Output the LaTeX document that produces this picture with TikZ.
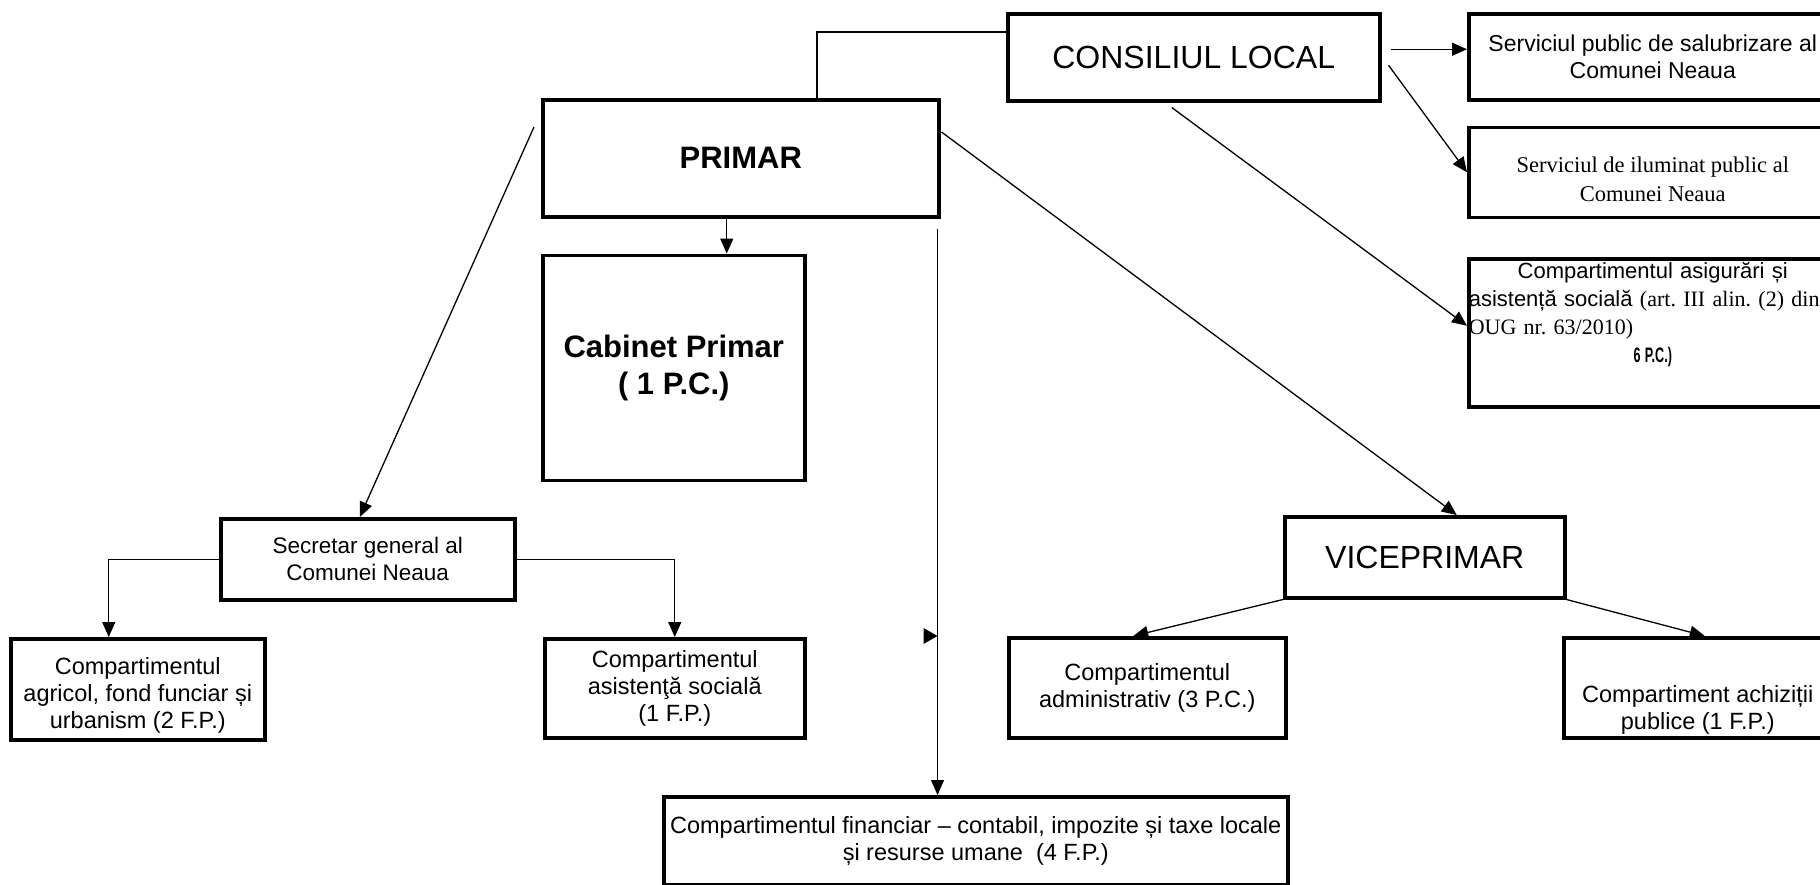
\documentclass[tikz,border=0pt]{standalone}
\usepackage{fontspec}
\setmainfont{Liberation Sans}
\newfontfamily\timesfont{Liberation Serif}
\usepackage{graphicx}
\usepackage{tikz}
\usetikzlibrary{positioning,arrows.meta,calc}

\begin{document}
\frenchspacing
\begin{tikzpicture}[x=1pt, y=-1pt, line width=1.3pt,
>={Triangle[length=15pt,width=13pt]},
box/.style={draw, line width=3.5pt, align=center, inner sep=0pt, anchor=north west, font=\fontsize{23.5}{27}\selectfont},
bigtext/.style={font=\fontsize{32}{38}\selectfont},
boldtext/.style={font=\bfseries\fontsize{31}{37}\selectfont}
]
\path[use as bounding box] (0,0) rectangle (1820,884);
\clip (0,0) rectangle (1820,884);
\fill[white] (0,0) rectangle (1820,884);

% top row
\node (consiliul) [box, bigtext, minimum width=372pt, minimum height=87pt] at (1006,12) {CONSILIUL LOCAL};
\node (salub) [box, minimum width=368pt, minimum height=86pt, font=\fontsize{23}{27}\selectfont] at (1467,12) {Serviciul public de salubrizare al\\ Comunei Neaua};
\node (ilum) [box, below=24pt of salub, minimum width=368pt, minimum height=90pt, text height=58pt, font=\timesfont\fontsize{22.5}{29}\selectfont] {Serviciul de iluminat public al\\ Comunei Neaua};
\node (asig) [box, below=38pt of ilum, minimum width=368pt, minimum height=148pt, text width=368pt, align=left, text depth=125pt, font=\fontsize{22}{28}\selectfont] {\makebox[368pt]{Compartimentul asigurări și}\\ \mbox{asistență socială {\timesfont (art. III alin. (2) din}}\\ {\timesfont OUG nr. 63/2010)}\\ \makebox[368pt]{\scalebox{0.6}[1]{\bfseries\fontsize{21}{22}\selectfont 6 P.C.)}}};

\node (primar) [box, boldtext, minimum width=396pt, minimum height=117pt] at (541,98) {PRIMAR};
\node (cabinet) [box, boldtext, minimum width=262pt, minimum height=225pt, below=35pt of primar.south west, anchor=north west] {Cabinet Primar\\ ( 1 P.C.)};

% left branch
\node (secretar) [box, minimum width=294pt, minimum height=81pt, font=\fontsize{22.5}{27}\selectfont] at (219,517) {Secretar general al\\ Comunei Neaua};
\node (agricol) [box, minimum width=254pt, minimum height=101pt, text height=84pt] at (9,637) {Compartimentul\\ agricol, fond funciar și\\ urbanism (2 F.P.)};
\node (asist) [box, minimum width=260pt, minimum height=99pt] at (543,637) {Compartimentul\\ asistenţă socială\\ (1 F.P.)};
\node (fin) [box, minimum width=624pt, minimum height=88pt] at (662,795) {Compartimentul financiar -- contabil, impozite și taxe locale\\ și resurse umane~ (4 F.P.)};

% right branch
\node (vice) [box, bigtext, minimum width=280pt, minimum height=81pt] at (1283,515) {VICEPRIMAR};
\node (admin) [box, minimum width=277pt, minimum height=100pt] at (1007,636) {Compartimentul\\ administrativ (3 P.C.)};
\node (achiz) [box, minimum width=268pt, minimum height=100pt] at (1562,636) {~\\[34pt] Compartiment achiziții\\ publice (1 F.P.)};

% connectors
\draw ($(consiliul.north west)+(0,20)$) -| ($(primar.north west)+(276,0)$);
\draw[->] ($(consiliul.east)+(9,-8)$) coordinate (c1) -- (c1 -| salub.west);
\draw[->] ($(consiliul.east)+(7,8)$) -- (ilum.west);
\draw[->] ($(consiliul.south)+(-22,5)$) -- ($(asig.west)+(0,-7)$);

\draw[->] ($(primar.south)+(-14,0)$) coordinate (p1) -- (p1 |- cabinet.north);
\draw[->] ($(primar.north west)+(-7,29)$) -- ($(secretar.north)+(-8,0)$);
\draw[->] ($(primar.north east)+(1,34)$) -- ($(vice.north)+(32,0)$);
\coordinate (vtop) at ($(primar.south east)+(-3,10)$);
\draw[->] (vtop) -- (vtop |- fin.north);
\fill (vtop |- admin.north) -- ++(-14,-8) -- ++(0,16) -- cycle;

\draw[->] (secretar.west) -| ($(agricol.north)+(-29,0)$);
\draw[->] (secretar.east) -| (asist.north);

\draw[->] (vice.south west) -- ($(admin.north)+(-14,0)$);
\draw[->] (vice.south east) -- ($(achiz.north)+(7,0)$);

\end{tikzpicture}
\end{document}
